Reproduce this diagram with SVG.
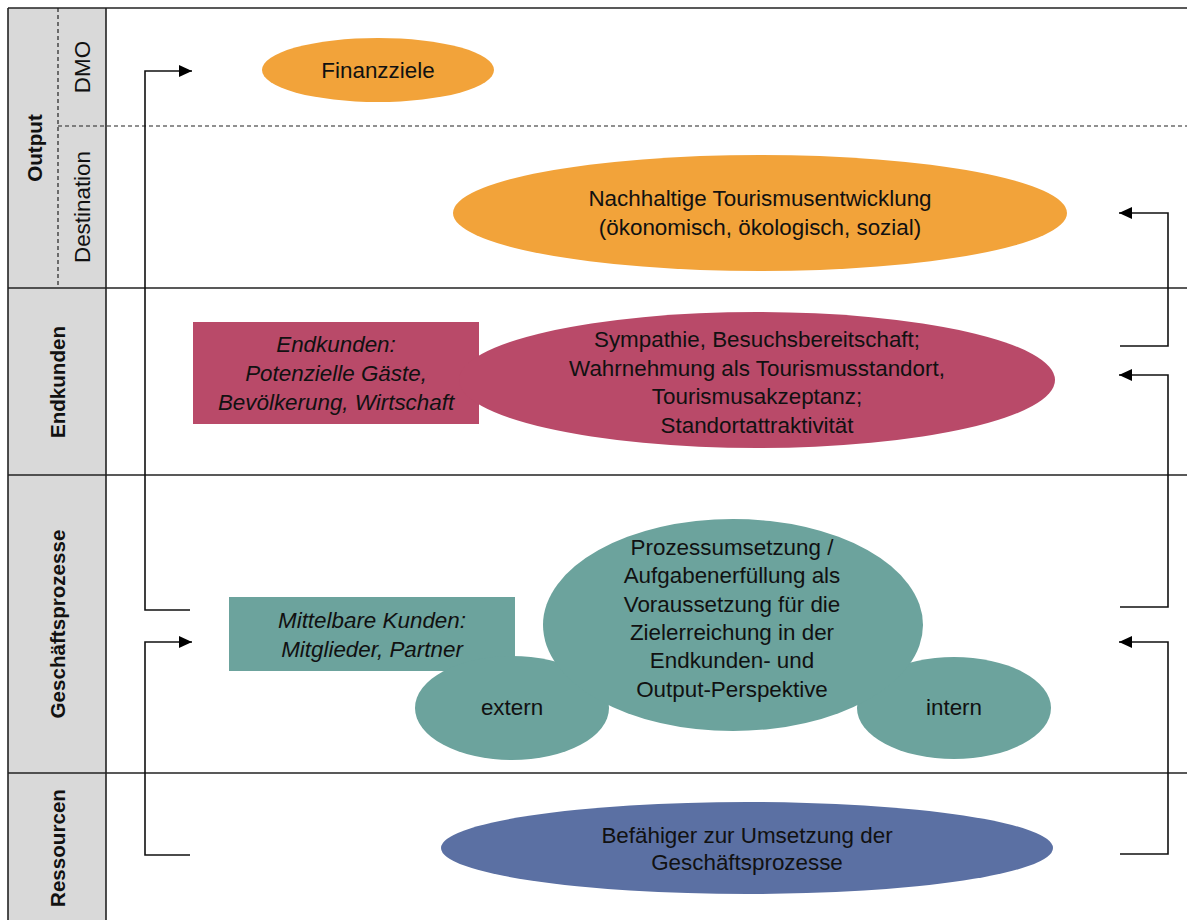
<svg xmlns="http://www.w3.org/2000/svg" width="1187" height="920" viewBox="0 0 1187 920">
<defs>
<marker id="arr" markerUnits="userSpaceOnUse" markerWidth="14" markerHeight="12" refX="13" refY="6" orient="auto">
<path d="M0,0 L13,6 L0,12 Z" fill="#000"/>
</marker>
<style>
.t{font-family:"Liberation Sans",Arial,sans-serif;font-size:22.4px;fill:#111;text-anchor:middle}
.i{font-style:italic}
.lb{font-family:"Liberation Sans",Arial,sans-serif;font-size:22.4px;fill:#111;text-anchor:middle}
.b{font-weight:bold;font-size:20.6px}
.ln{stroke:#222;stroke-width:1.6;fill:none}
.dash{stroke:#222;stroke-width:1.2;stroke-dasharray:4,3;fill:none}
.con{stroke:#111;stroke-width:1.6;fill:none}
.or{fill:#F2A33A}
.pk{fill:#B94A69}
.tl{fill:#6CA39D}
.bl{fill:#5B70A3}
</style>
</defs>
<rect width="1187" height="920" fill="#fff"/>
<g id="grid">
<rect x="8" y="8" width="98" height="912" fill="#D9D9D9"/>
<line class="ln" x1="8" y1="8" x2="1187" y2="8"/>
<line class="ln" x1="8" y1="288" x2="1187" y2="288"/>
<line class="ln" x1="8" y1="475" x2="1187" y2="475"/>
<line class="ln" x1="8" y1="773" x2="1187" y2="773"/>
<line class="ln" x1="8" y1="8" x2="8" y2="920"/>
<line class="ln" x1="106" y1="8" x2="106" y2="920"/>
<line class="dash" x1="58" y1="8" x2="58" y2="288"/>
<line class="dash" x1="58" y1="126" x2="1187" y2="126"/>
</g>
<g id="labels">
<text class="lb b" transform="translate(42,148) rotate(-90)">Output</text>
<text class="lb" transform="translate(90,67) rotate(-90)">DMO</text>
<text class="lb" transform="translate(90,207) rotate(-90)">Destination</text>
<text class="lb b" transform="translate(65,382) rotate(-90)">Endkunden</text>
<text class="lb b" transform="translate(65,624) rotate(-90)">Geschäftsprozesse</text>
<text class="lb b" transform="translate(65,848) rotate(-90)">Ressourcen</text>
</g>
<g id="connectors">
<polyline class="con" points="190,610 145,610 145,71 192,71" marker-end="url(#arr)"/>
<polyline class="con" points="190,855 145,855 145,642 192,642" marker-end="url(#arr)"/>
<polyline class="con" points="1120,346 1168,346 1168,213 1119,213" marker-end="url(#arr)"/>
<polyline class="con" points="1120,607 1168,607 1168,375 1119,375" marker-end="url(#arr)"/>
<polyline class="con" points="1120,854 1168,854 1168,642 1119,642" marker-end="url(#arr)"/>
</g>
<g id="finanzziele">
<ellipse class="or" cx="378" cy="70" rx="116" ry="32"/>
<text class="t" x="378" y="78">Finanzziele</text>
</g>
<g id="nachhaltig">
<ellipse class="or" cx="760" cy="213" rx="307" ry="58"/>
<text class="t" x="760" y="206">Nachhaltige Tourismusentwicklung</text>
<text class="t" x="760" y="235">(ökonomisch, ökologisch, sozial)</text>
</g>
<g id="endkunden-box">
<rect class="pk" x="193" y="322" width="286" height="102"/>
<text class="t i" x="336" y="352">Endkunden:</text>
<text class="t i" x="336" y="381">Potenzielle Gäste,</text>
<text class="t i" x="336" y="410">Bevölkerung, Wirtschaft</text>
</g>
<g id="endkunden-ellipse">
<ellipse class="pk" cx="757" cy="380" rx="298" ry="68"/>
<text class="t" x="757" y="347">Sympathie, Besuchsbereitschaft;</text>
<text class="t" x="757" y="376">Wahrnehmung als Tourismusstandort,</text>
<text class="t" x="757" y="404">Tourismusakzeptanz;</text>
<text class="t" x="757" y="433">Standortattraktivität</text>
</g>
<g id="mittelbar">
<rect class="tl" x="229" y="597" width="286" height="74"/>
<text class="t i" x="372" y="628">Mittelbare Kunden:</text>
<text class="t i" x="372" y="657">Mitglieder, Partner</text>
</g>
<g id="extern">
<ellipse class="tl" cx="512" cy="708" rx="97" ry="52"/>
<text class="t" x="512" y="715">extern</text>
</g>
<g id="intern">
<ellipse class="tl" cx="954" cy="708" rx="97" ry="51"/>
<text class="t" x="954" y="715">intern</text>
</g>
<g id="prozess">
<ellipse class="tl" cx="733" cy="625" rx="190" ry="106"/>
<text class="t" x="732" y="555">Prozessumsetzung /</text>
<text class="t" x="732" y="583">Aufgabenerfüllung als</text>
<text class="t" x="732" y="612">Voraussetzung für die</text>
<text class="t" x="732" y="640">Zielerreichung in der</text>
<text class="t" x="732" y="668">Endkunden- und</text>
<text class="t" x="732" y="697">Output-Perspektive</text>
</g>
<g id="ressourcen">
<ellipse class="bl" cx="747" cy="848" rx="306" ry="46"/>
<text class="t" x="747" y="843">Befähiger zur Umsetzung der</text>
<text class="t" x="747" y="870">Geschäftsprozesse</text>
</g>
</svg>
